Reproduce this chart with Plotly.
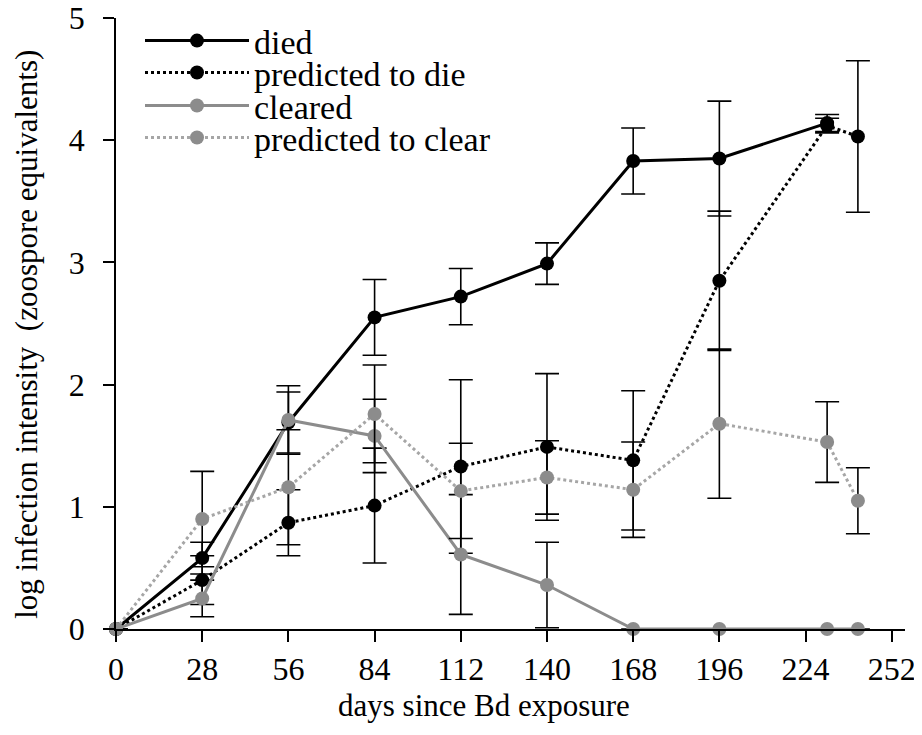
import plotly.graph_objects as go

# ---- data ----
days_died = [0, 28, 56, 84, 112, 140, 168, 196, 231]
died = [0, 0.58, 1.69, 2.55, 2.72, 2.99, 3.83, 3.85, 4.14]
died_se = [0, 0.13, 0.25, 0.31, 0.23, 0.17, 0.27, 0.47, 0.07]

days_pred_die = [0, 28, 56, 84, 112, 140, 168, 196, 231, 241]
pred_die = [0, 0.40, 0.87, 1.01, 1.33, 1.49, 1.38, 2.85, 4.12, 4.03]
pred_die_se = [0, 0.20, 0.27, 0.47, 0.71, 0.60, 0.57, 0.57, 0.06, 0.62]

days_cleared = [0, 28, 56, 84, 112, 140, 168, 196, 231, 241]
cleared = [0, 0.25, 1.71, 1.58, 0.61, 0.36, 0, 0, 0, 0]
cleared_se = [0, 0.15, 0.28, 0.30, 0.49, 0.35, 0, 0, 0, 0]

days_pred_clear = [0, 28, 56, 84, 112, 140, 168, 196, 231, 241]
pred_clear = [0, 0.90, 1.16, 1.76, 1.13, 1.24, 1.14, 1.68, 1.53, 1.05]
pred_clear_se = [0, 0.39, 0.47, 0.40, 0.39, 0.30, 0.39, 0.61, 0.33, 0.27]

x_ticks = [0, 28, 56, 84, 112, 140, 168, 196, 224, 252]
y_ticks = [0, 1, 2, 3, 4, 5]

FONT = "Liberation Serif, Times New Roman, serif"
BLACK = "#000000"
GRAY = "#8c8c8c"
LIGHT = "#a6a6a6"

fig = go.Figure()

def add(name, x, y, se, line_color, marker_color, dash, legend):
    fig.add_trace(go.Scatter(
        x=x, y=y, name=name, mode="lines+markers",
        line=dict(color=line_color, width=3, dash=dash),
        marker=dict(color=marker_color, size=14),
        error_y=dict(type="data", array=se, visible=True,
                     color=BLACK, thickness=1.6, width=12),
        cliponaxis=False,
        legend=legend,
    ))

add("died", days_died, died, died_se, BLACK, BLACK, "solid", "legend")
add("predicted to die", days_pred_die, pred_die, pred_die_se, BLACK, BLACK, "dot", "legend2")
add("cleared", days_cleared, cleared, cleared_se, GRAY, GRAY, "solid", "legend3")
add("predicted to clear", days_pred_clear, pred_clear, pred_clear_se, LIGHT, GRAY, "dot", "legend4")

# figure sits 8px in from the page corner (page body margin)
OFF = 8
W, H = 922 - OFF, 735 - OFF
L, T = 116 - OFF, 18 - OFF
R = W - (905 - OFF)
B = H - (629.5 - OFF)
pw, ph = W - L - R, H - T - B

def px_x(page_x):
    return (page_x - OFF - L) / pw

def px_y(page_y):
    return (H - B - (page_y - OFF)) / ph

def leg(page_y):
    return dict(
        x=px_x(140), y=px_y(page_y), xanchor="left", yanchor="middle",
        xref="paper", yref="paper",
        font=dict(family=FONT, size=34, color=BLACK),
        bgcolor="rgba(0,0,0,0)", itemwidth=104,
        itemclick=False, itemdoubleclick=False,
    )

axis_common = dict(
    showgrid=False, zeroline=False, showline=True,
    linecolor=BLACK, linewidth=1.6,
    ticks="outside", ticklen=11, tickwidth=1.6, tickcolor=BLACK,
    tickfont=dict(family=FONT, size=32, color=BLACK),
    automargin=False, ticklabeloverflow="allow",
)

fig.update_layout(
    width=W, height=H,
    margin=dict(l=L, r=R, t=T, b=B, autoexpand=False),
    paper_bgcolor="white", plot_bgcolor="white",
    font=dict(family=FONT, size=32, color=BLACK),
    showlegend=True,
    legend=leg(41), legend2=leg(73), legend3=leg(106), legend4=leg(138),
    xaxis=dict(range=[0, 256.3], tickmode="array", tickvals=x_ticks,
               ticktext=[str(v) for v in x_ticks], **axis_common),
    yaxis=dict(range=[0, 5], tickmode="array", tickvals=y_ticks,
               ticklabelstandoff=12, **axis_common),
    annotations=[
        dict(text="days since Bd exposure", xref="paper", yref="paper",
             x=px_x(484), y=px_y(706),
             xanchor="center", yanchor="middle", showarrow=False,
             font=dict(family=FONT, size=31, color=BLACK)),
        dict(text="log infection intensity  (zoospore equivalents)",
             xref="paper", yref="paper",
             x=px_x(27), y=px_y(335),
             xanchor="center", yanchor="middle", showarrow=False,
             textangle=-90,
             font=dict(family=FONT, size=31, color=BLACK)),
    ],
)

fig.write_html("out.html")
